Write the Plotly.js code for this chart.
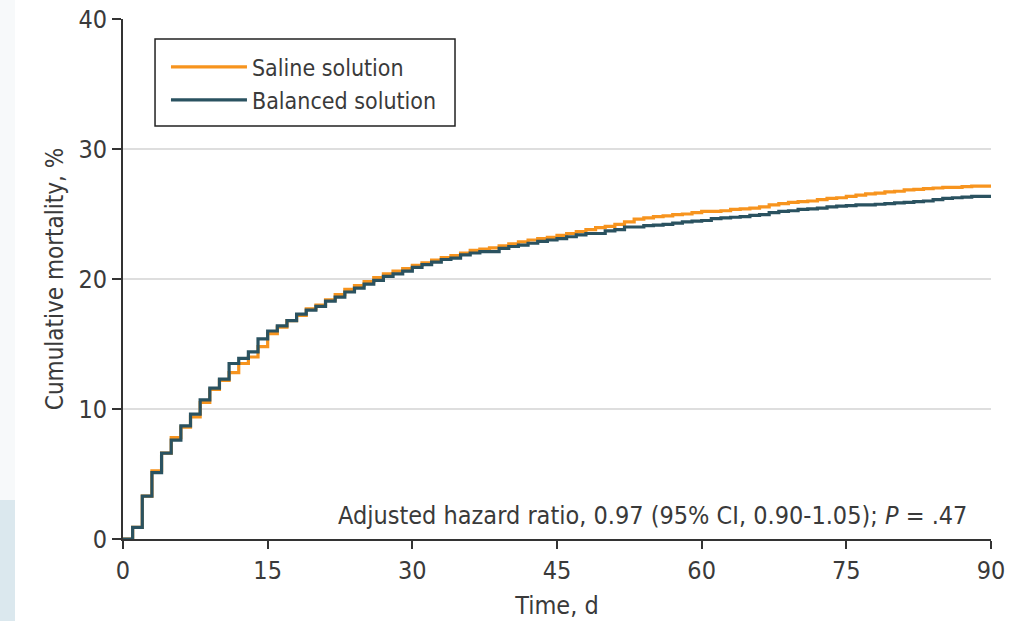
<!DOCTYPE html>
<html>
<head>
<meta charset="utf-8">
<script src="https://cdn.plot.ly/plotly-3.0.1.min.js"></script>
<style>
html,body{margin:0;padding:0;background:#fff;}
#chart{width:1030px;height:621px;}
</style>
</head>
<body>
<div id="chart"></div>
<script>
const days = Array.from({length: 91}, (_, i) => i);
const salineLabel = "Saline solution";
const balancedLabel = "Balanced solution";
const saline = [
  0, 0.9, 3.3, 5.25, 6.6, 7.8, 8.6, 9.4, 10.5, 11.5,
  12.2, 12.8, 13.5, 14.0, 14.8, 15.8, 16.3, 16.8, 17.2, 17.7,
  18.0, 18.4, 18.8, 19.2, 19.5, 19.8, 20.1, 20.4, 20.6, 20.8,
  21.05, 21.25, 21.45, 21.65, 21.8, 22.0, 22.2, 22.3, 22.4, 22.55,
  22.7, 22.85, 23.0, 23.1, 23.2, 23.35, 23.5, 23.65, 23.8, 23.95,
  24.05, 24.2, 24.4, 24.6, 24.7, 24.8, 24.85, 24.95, 25.0, 25.1,
  25.2, 25.2, 25.25, 25.35, 25.4, 25.45, 25.55, 25.7, 25.8, 25.9,
  25.95, 26.0, 26.1, 26.2, 26.25, 26.35, 26.45, 26.55, 26.6, 26.7,
  26.75, 26.85, 26.9, 26.95, 27.0, 27.05, 27.05, 27.1, 27.15, 27.15,
  27.15
];
const balanced = [
  0, 0.9, 3.3, 5.1, 6.6, 7.6, 8.7, 9.6, 10.7, 11.6,
  12.3, 13.5, 13.9, 14.4, 15.4, 16.0, 16.4, 16.8, 17.3, 17.6,
  17.9, 18.3, 18.6, 19.0, 19.3, 19.6, 19.9, 20.2, 20.4, 20.6,
  20.9, 21.1, 21.3, 21.5, 21.6, 21.85, 22.0, 22.1, 22.1, 22.35,
  22.5, 22.6, 22.75, 22.9, 23.0, 23.1, 23.25, 23.4, 23.5, 23.5,
  23.7, 23.8, 24.0, 24.0, 24.1, 24.15, 24.2, 24.3, 24.4, 24.45,
  24.5, 24.65, 24.7, 24.75, 24.8, 24.9, 24.95, 25.1, 25.2, 25.25,
  25.35, 25.4, 25.45, 25.55, 25.6, 25.65, 25.7, 25.7, 25.75, 25.8,
  25.85, 25.9, 25.95, 26.0, 26.1, 26.2, 26.25, 26.3, 26.35, 26.35,
  26.4
];
const xTicks = [0, 15, 30, 45, 60, 75, 90];
const yTicks = [0, 10, 20, 30, 40];
const annotationText = "Adjusted hazard ratio, 0.97 (95% CI, 0.90-1.05); <i>P</i> = .47";

const FONT = '"DejaVu Sans Condensed", "DejaVu Sans", sans-serif';
const TXT = '#3a3a3a';

const traces = [
  {x: days, y: saline, name: salineLabel, type: 'scatter', mode: 'lines',
   line: {shape: 'hv', color: '#f7941e', width: 3.2}},
  {x: days, y: balanced, name: balancedLabel, type: 'scatter', mode: 'lines',
   line: {shape: 'hv', color: '#2a5260', width: 3.2}}
];

const layout = {
  width: 1030, height: 621,
  margin: {l: 123, r: 39, t: 19, b: 82},
  paper_bgcolor: '#fff', plot_bgcolor: '#fff',
  font: {family: FONT, size: 24, color: TXT},
  showlegend: true,
  legend: {
    x: 0.0495, y: 0.949, xanchor: 'left', yanchor: 'top',
    borderwidth: 0, bgcolor: 'rgba(0,0,0,0)',
    font: {family: FONT, size: 23, color: TXT},
    itemwidth: 76, tracegroupgap: 0
  },
  xaxis: {
    range: [0, 90], tickvals: xTicks, ticktext: xTicks.map(String),
    showgrid: false, zeroline: false,
    showline: true, linecolor: '#333', linewidth: 2,
    ticks: 'outside', ticklen: 8, tickwidth: 2, tickcolor: '#333',
    tickfont: {family: FONT, size: 25, color: TXT},
    title: {text: 'Time, d', font: {family: FONT, size: 25, color: TXT}, standoff: 12},
    fixedrange: true
  },
  yaxis: {
    range: [0, 40], tickvals: yTicks, ticktext: yTicks.map(String),
    showgrid: true, gridcolor: '#dedede', gridwidth: 1.5, zeroline: false,
    showline: true, linecolor: '#333', linewidth: 2,
    ticks: 'outside', ticklen: 9, tickwidth: 2, tickcolor: '#333',
    tickfont: {family: FONT, size: 25, color: TXT},
    title: {text: 'Cumulative mortality, %', font: {family: FONT, size: 24, color: TXT}, standoff: 8},
    fixedrange: true
  },
  annotations: [{
    xref: 'paper', yref: 'paper', x: 0.975, y: 0.045,
    xanchor: 'right', yanchor: 'middle', showarrow: false,
    text: annotationText, font: {family: FONT, size: 25, color: TXT}
  }],
  shapes: [
    {type: 'rect', xref: 'paper', yref: 'paper', x0: -0.1417, x1: -0.1244, y0: -0.16, y1: 0.075,
     fillcolor: '#dbe8ee', line: {width: 0}, layer: 'below'},
    {type: 'rect', xref: 'paper', yref: 'paper', x0: -0.1417, x1: -0.1244, y0: 0.075, y1: 1.04,
     fillcolor: '#f7f9fa', line: {width: 0}, layer: 'below'},
    {type: 'rect', xref: 'paper', yref: 'paper', x0: 0.0369, x1: 0.3825, y0: 0.7942, y1: 0.9615,
     fillcolor: '#fff', line: {color: '#222', width: 1.5}, layer: 'above'}
  ]
};

Plotly.newPlot('chart', traces, layout, {displayModeBar: false, staticPlot: true});
</script>
</body>
</html>
